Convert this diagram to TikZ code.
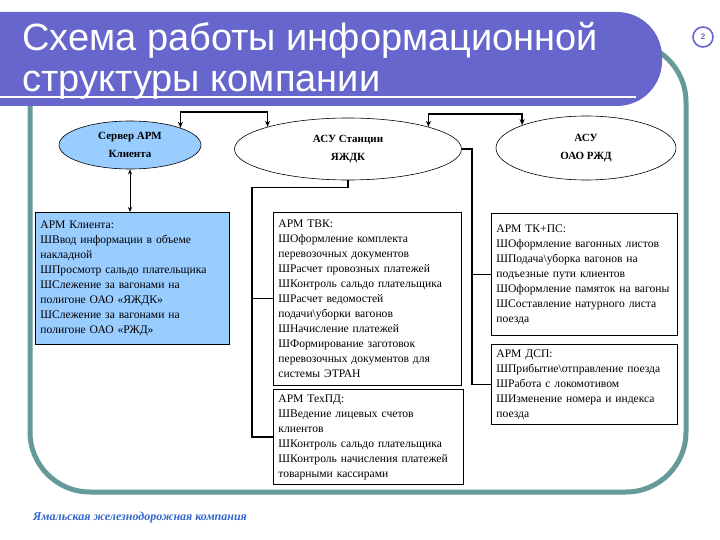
\documentclass[tikz,border=0pt]{standalone}
\usepackage{fontspec}
\setmainfont{Liberation Serif}
\newfontfamily\titlefont{Liberation Sans}
\usetikzlibrary{arrows.meta,positioning,shapes.geometric}
\definecolor{slidepurple}{HTML}{6666CC}
\definecolor{slideteal}{HTML}{669999}
\definecolor{armblue}{HTML}{99CCFF}
\definecolor{footblue}{HTML}{3366CC}
\newcommand\armfont{\fontsize{11.6}{15}\selectfont}
\newcommand\sysfont{\fontsize{11}{18}\selectfont\bfseries}
\hyphenpenalty=10000
\exhyphenpenalty=10000

\begin{document}
\begin{tikzpicture}[x=1pt, y=-1pt,
  sys/.style={ellipse, draw, line width=0.6pt, inner sep=0pt, align=center, font=\sysfont},
  armbox/.style={draw, line width=0.8pt, anchor=north west, align=left,
    inner xsep=5pt, inner ysep=5pt, font=\armfont},
  link/.style={{Stealth[length=6pt,width=5pt]}-{Stealth[length=6pt,width=5pt]}, line width=1.8pt},
  thinlink/.style={{Stealth[length=5pt,width=4pt]}-{Stealth[length=5pt,width=4pt]}, line width=0.6pt},
  bus/.style={line width=1.1pt},
  titleline/.style={anchor=base west, inner sep=0pt, text=white, font=\titlefont\fontsize{38}{41}\selectfont},
]
\useasboundingbox (0,0) rectangle (720,540);

% slide frame and title banner
\draw[slideteal, line width=5pt, rounded corners=60pt] (30,42) rectangle (686,492);
\fill[slidepurple, rounded corners=45pt] (-60,12) rectangle (662,106);
\node[titleline] (title1) at (22,51) {Схема работы информационной};
\node[titleline] (title2) at (22,92) {структуры компании};
\draw[white, line width=1.5pt] (0,97) -- (636,97);
\node[circle, draw=slidepurple, line width=1.6pt, minimum size=20pt, inner sep=0pt,
  text=slidepurple, font=\titlefont\bfseries\fontsize{8}{8}\selectfont] (pagenum) at (703,37) {2};

% systems
\node[sys, fill=armblue, minimum width=142pt, minimum height=48pt] (srv) at (130,145) {Сервер АРМ\\Клиента};
\node[sys, minimum width=227pt, minimum height=62pt] (asu) at (348,149) {АСУ Станции\\ЯЖДК};
\node[sys, minimum width=180pt, minimum height=64pt] (rzd) at (586,148) {АСУ\\ОАО РЖД};

% workstations
\node[armbox, fill=armblue, text width=184pt, minimum height=132pt] (cli) at (35,212)
  {АРМ Клиента:\\ШВвод информации в объеме\\накладной\\ШПросмотр сальдо плательщика\\ШСлежение за вагонами на\\полигоне ОАО «ЯЖДК»\\ШСлежение за вагонами на\\полигоне ОАО «РЖД»};
\node[armbox, text width=178pt, minimum height=173pt] (tvk) at (273,212)
  {АРМ ТВК:\\ШОформление комплекта\\перевозочных документов\\ШРасчет провозных платежей\\ШКонтроль сальдо плательщика\\ШРасчет ведомостей\\подачи\textbackslash уборки вагонов\\ШНачисление платежей\\ШФормирование заготовок\\перевозочных документов для\\системы ЭТРАН};
\node[armbox, text width=180pt, minimum height=92pt] (tech) at (273,389)
  {АРМ ТехПД:\\ШВедение лицевых счетов\\клиентов\\ШКонтроль сальдо плательщика\\ШКонтроль начисления платежей\\товарными кассирами};
\node[armbox, text width=176pt, minimum height=122pt] (tkps) at (491,213)
  {АРМ ТК+ПС:\\ШОформление вагонных листов\\ШПодача\textbackslash уборка вагонов на\\подъезные пути клиентов\\ШОформление памяток на вагоны\\ШСоставление натурного листа\\поезда};
\node[armbox, text width=176pt, minimum height=80pt] (dsp) at (491,344)
  {АРМ ДСП:\\ШПрибытие\textbackslash отправление поезда\\ШРабота с локомотивом\\ШИзменение номера и индекса\\поезда};

% links
\draw[link] (srv.north east) -- ++(0,-16) -| (asu.north west);
\draw[link] (asu.north east) -- ++(0,-13) -| (rzd.north west);
\draw[thinlink] (srv.south) -- (srv.south |- cli.north);
\draw[bus] (asu.south) -- ++(0,7) -| ([xshift=-21pt]tech.west) -- (tech.west);
\draw[bus] ([xshift=-21pt]tvk.west) -- (tvk.west);
\draw[bus] (asu.east) -| ([xshift=-19pt]dsp.west) -- (dsp.west);
\draw[bus] ([xshift=-19pt]tkps.west) -- (tkps.west);

\node[anchor=base west, inner sep=0pt, text=footblue,
  font=\fontsize{12}{12}\selectfont\bfseries\itshape] (foot) at (33,520) {Ямальская железнодорожная компания};
\end{tikzpicture}
\end{document}
